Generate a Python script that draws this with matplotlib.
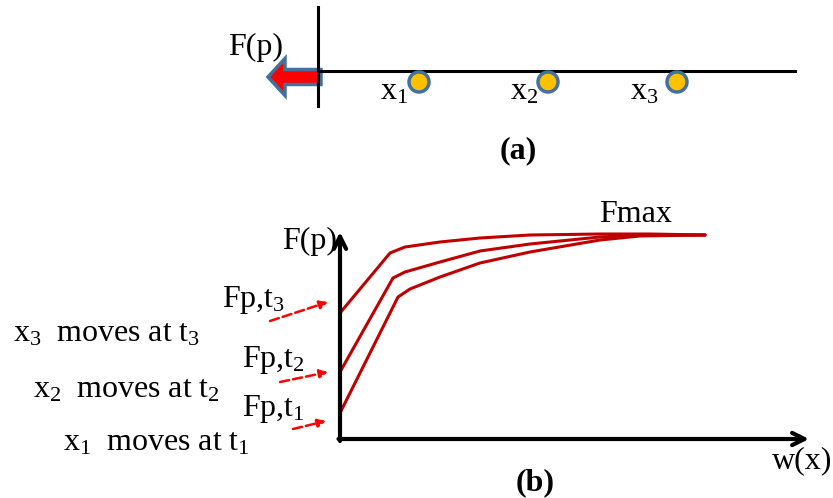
import matplotlib.pyplot as plt
import matplotlib.patches as mpatches

plt.rcParams['font.family'] = ['Liberation Serif', 'DejaVu Serif']
plt.rcParams['mathtext.fontset'] = 'custom'
plt.rcParams['mathtext.rm'] = 'Liberation Serif'
plt.rcParams['mathtext.it'] = 'Liberation Serif:italic'

# panel (a): particle positions on the line
particle_x = [419, 548, 677]
particle_labels = [r'$\mathregular{x_1}$', r'$\mathregular{x_2}$', r'$\mathregular{x_3}$']
particle_label_x = [380, 510, 630]

# panel (b): F(p) against w(x), one curve per moving particle
w_curve = {
    't3': [340, 390, 405, 440, 480, 530, 600, 650, 705],
    't2': [340, 393, 405, 440, 480, 530, 600, 640, 705],
    't1': [340, 398, 410, 440, 480, 530, 600, 640, 705],
}
F_curve = {
    't3': [313, 253, 247, 242, 238, 235, 234, 234, 235],
    't2': [372, 278, 272, 262, 251, 244, 237, 235, 235],
    't1': [413, 297, 289, 277, 263, 252, 240, 236, 235],
}
start_labels = [r'$\mathregular{Fp{,}t_3}$', r'$\mathregular{Fp{,}t_2}$', r'$\mathregular{Fp{,}t_1}$']
move_labels = [r'$\mathregular{x_3\ \ moves\ at\ t_3}$',
               r'$\mathregular{x_2\ \ moves\ at\ t_2}$',
               r'$\mathregular{x_1\ \ moves\ at\ t_1}$']

fig = plt.figure(figsize=(8.33, 4.98), dpi=100)
ax = fig.add_axes([0, 0, 1, 1])
ax.set_xlim(0, 833)
ax.set_ylim(498, 0)
ax.axis('off')

fs = 23

# ---- panel (a)
ax.plot([318, 318], [7, 106], color='black', lw=2.2)
ax.plot([318, 795], [71, 71], color='black', lw=2.2)
ax.add_patch(mpatches.FancyArrow(321, 77, -53, 0, width=15, head_width=37, head_length=17,
                                 length_includes_head=True, fc='#FF0000', ec='#41719C', lw=2.5))
ax.text(228, 55, 'F(p)', fontsize=fs, ha='left', va='baseline')
for px, lx, lab in zip(particle_x, particle_label_x, particle_labels):
    ax.add_patch(mpatches.Circle((px, 82), 10, fc='#FFC000', ec='#41719C', lw=2.5, zorder=3))
    ax.text(lx, 99, lab, fontsize=fs, ha='left', va='baseline')
ax.text(518, 158, '(a)', fontsize=fs, fontweight='bold', ha='center', va='baseline')

# ---- panel (b)
ax.annotate('', xy=(340, 232), xytext=(340, 441),
            arrowprops=dict(arrowstyle='->', lw=3, color='black', mutation_scale=22, shrinkA=0, shrinkB=0))
ax.annotate('', xy=(809, 439), xytext=(338.5, 439),
            arrowprops=dict(arrowstyle='->', lw=3, color='black', mutation_scale=22, shrinkA=0, shrinkB=0))
ax.text(282, 249, 'F(p)', fontsize=fs, ha='left', va='baseline')
ax.text(772, 468, 'w(x)', fontsize=fs, ha='left', va='baseline')
ax.text(535, 490, '(b)', fontsize=fs, fontweight='bold', ha='center', va='baseline')
ax.text(599, 222, 'Fmax', fontsize=fs, ha='left', va='baseline')

for key in ['t3', 't2', 't1']:
    ax.plot(w_curve[key], F_curve[key], color='#C00000', lw=2.2, solid_capstyle='round')

arrow_from = [(270, 321), (280, 382), (293, 429)]
arrow_to = [(328, 302), (328, 372), (326, 421)]
label_pos = [(222, 307), (242, 367), (242, 416)]
move_pos = [(13, 341), (33, 397), (63, 450)]
for a0, a1, lp, lab, mp, mlab in zip(arrow_from, arrow_to, label_pos, start_labels, move_pos, move_labels):
    ax.annotate('', xy=a1, xytext=a0,
                arrowprops=dict(arrowstyle='-|>', lw=1.8, ls='--', color='#FF0000',
                                mutation_scale=12, shrinkA=0, shrinkB=0))
    ax.text(lp[0], lp[1], lab, fontsize=fs, ha='left', va='baseline')
    ax.text(mp[0], mp[1], mlab, fontsize=fs, ha='left', va='baseline')

fig.savefig('out.png', dpi=100)
